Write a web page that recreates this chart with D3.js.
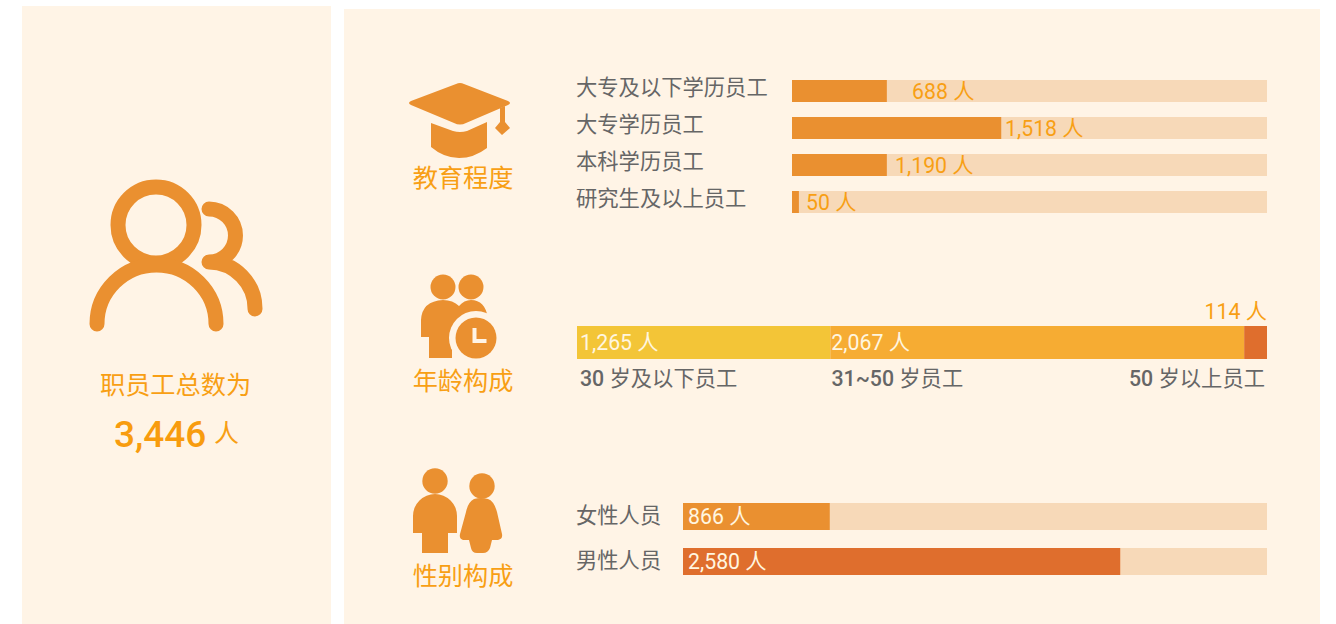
<!DOCTYPE html>
<html><head><meta charset="utf-8">
<script src="https://cdn.jsdelivr.net/npm/d3@7"></script>
<style>html,body{margin:0;padding:0;background:#fff;overflow:hidden}svg{display:block}
text{font-family:Roboto,"Noto Sans CJK SC",sans-serif}</style></head>
<body><svg id="c" width="1336" height="624"></svg>
<script>
// Data
const total = 3446;
const eduLabels = ["大专及以下学历员工","大专学历员工","本科学历员工","研究生及以上员工"];
const eduValues = [688,1518,1190,50];
// The reference draws the 本科 bar at the same length as the 688 bar, whatever its label says.
const eduDrawn = [688,1518,688,50];
const eduLabelX = [912,1005,895,806];
const ageNums = ["30","31~50","50"];
const ageSuffix = [" 岁及以下员工"," 岁员工"," 岁以上员工"];
const ageValues = [1265,2067,114];
const genderLabels = ["女性人员","男性人员"];
const genderValues = [866,2580];
const fmt = d3.format(",");

const BG="#fff4e6",TRACK="#f7d9b8",ORANGE="#ea9030",ICON="#ea9030",TXT="#f89f14",GREY="#666666",DARK="#df6e2d",YEL="#f3c537",MID="#f6ac33";
const svg=d3.select("#c");
svg.append("rect").attr("x",22).attr("y",6).attr("width",309).attr("height",618).attr("fill",BG);
svg.append("rect").attr("x",344).attr("y",9).attr("width",976).attr("height",615).attr("fill",BG);

function t(x,y,s,size,fill,anchor,weight){
  return svg.append("text").attr("x",x).attr("y",y).attr("font-size",size).attr("fill",fill)
    .attr("text-anchor",anchor||"start").attr("font-weight",weight||400).text(s);
}
// total block
t(175.5,394,"职员工总数为",25.2,TXT,"middle");
t(114,447,fmt(total),37,"#f89c0e","start",500);
t(214,442,"人",25,TXT);
// section titles
t(463,187,"教育程度",25.2,TXT,"middle");
t(463,390,"年龄构成",25.2,TXT,"middle");
t(463,585,"性别构成",25.2,TXT,"middle");

// icons
const icon=svg.append("g");
const people=icon.append("g").attr("fill","none").attr("stroke",ICON).attr("stroke-width",15).attr("stroke-linecap","round").attr("stroke-linejoin","round");
people.append("circle").attr("cx",156).attr("cy",225).attr("r",38);
people.append("path").attr("d","M97 324A59.5 59 0 0 1 216 324");
people.append("path").attr("d","M209 209A26.5 26.5 0 0 1 209 262A46.5 46.5 0 0 1 255 309");
const cap=icon.append("g").attr("fill",ICON);
cap.append("path").attr("d","M456 84Q460 82 464 84L508 101Q512 103 508 105L466 123Q460 126 454 123L411 105Q407 103 411 101Z");
cap.append("path").attr("d","M431 123L453 131Q460 133 467 131L487 122V148Q474 158 459 158Q444 158 431 147Z");
cap.append("path").attr("d","M500 108L505 106V122L510 128L502 135L495 128L500 122Z");
const age=icon.append("g").attr("fill",ICON);
age.append("circle").attr("cx",443).attr("cy",287).attr("r",12.5);
age.append("circle").attr("cx",471).attr("cy",287).attr("r",12.5);
age.append("path").attr("d","M421 337V320Q422 301 443 300Q453 300 459 306Q464 300 471 300Q485 300 488 318V340H452V358H429V337Z");
age.append("circle").attr("cx",476).attr("cy",338).attr("r",27).attr("fill",BG);
age.append("circle").attr("cx",476).attr("cy",338).attr("r",20.5);
age.append("path").attr("d","M474.5 328V341H486.5").attr("fill","none").attr("stroke",BG).attr("stroke-width",4);
const gen=icon.append("g").attr("fill",ICON);
gen.append("circle").attr("cx",435).attr("cy",481).attr("r",12.7);
gen.append("circle").attr("cx",482).attr("cy",486).attr("r",12.7);
gen.append("path").attr("d","M413 533V516A22 22 0 0 1 457 516V533H448V553H422V533Z");
gen.append("path").attr("d","M474 499Q481 497 488 499Q494 501 497 512L502 534Q503 539 498 540H492L490 548Q488 553 483 553H477Q472 553 471 548L469 540H463Q459 539 460 534L466 512Q468 502 474 499Z");

// education bars
const eduX=d3.scaleLinear().domain([0,total]).range([792,1267]);
const eduY=d3.scaleBand().domain(eduLabels).range([80,213]).paddingInner(15/37).paddingOuter(0);
const edu=svg.append("g");
edu.selectAll("rect.t").data(eduLabels).join("rect").attr("class","t").attr("x",eduX(0)).attr("y",d=>eduY(d))
  .attr("width",eduX(total)-eduX(0)).attr("height",eduY.bandwidth()).attr("fill",TRACK);
edu.selectAll("rect.v").data(eduDrawn).join("rect").attr("class","v").attr("x",eduX(0)).attr("y",(d,i)=>eduY(eduLabels[i]))
  .attr("width",d=>eduX(d)-eduX(0)).attr("height",eduY.bandwidth()).attr("fill",ORANGE);
eduLabels.forEach((l,i)=>{
  t(576,eduY(l)+14.7,l,21.3,GREY);
  t(eduLabelX[i],eduY(l)+19,fmt(eduValues[i])+" 人",21.3,TXT);
});

// age stacked bar
const ageX=d3.scaleLinear().domain([0,total]).range([577,1267]);
let cum=0; const ageStack=ageValues.map(v=>{const a=cum;cum+=v;return [a,cum];});
const ageCol=[YEL,MID,DARK];
svg.append("g").selectAll("rect").data(ageStack).join("rect")
  .attr("x",d=>ageX(d[0])).attr("y",326).attr("height",33).attr("width",d=>ageX(d[1])-ageX(d[0])).attr("fill",(d,i)=>ageCol[i]);
t(ageX(0)+3,350,fmt(ageValues[0])+" 人",21.3,"#fff6e0");
t(ageX(ageStack[1][0])+1,350,fmt(ageValues[1])+" 人",21.3,"#fff6e0");
t(1267,319,fmt(ageValues[2])+" 人",21.3,TXT,"end");
[[580,"start"],[831.5,"start"],[1265,"end"]].forEach((p,i)=>{
  const e=t(p[0],386,"",21.3,GREY,p[1]);
  e.append("tspan").attr("font-weight",500).text(ageNums[i]);
  e.append("tspan").text(ageSuffix[i]);
});

// gender bars
const gX=d3.scaleLinear().domain([0,total]).range([683,1267]);
const gY=d3.scaleBand().domain(genderLabels).range([503,575]).paddingInner(18/45).paddingOuter(0);
const gCol=[ORANGE,DARK];
const g=svg.append("g");
g.selectAll("rect.t").data(genderLabels).join("rect").attr("class","t").attr("x",gX(0)).attr("y",d=>gY(d))
  .attr("width",gX(total)-gX(0)).attr("height",gY.bandwidth()).attr("fill",TRACK);
g.selectAll("rect.v").data(genderValues).join("rect").attr("class","v").attr("x",gX(0)).attr("y",(d,i)=>gY(genderLabels[i]))
  .attr("width",d=>gX(d)-gX(0)).attr("height",gY.bandwidth()).attr("fill",(d,i)=>gCol[i]);
genderLabels.forEach((l,i)=>{
  t(576,gY(l)+20,l,21.3,GREY);
  t(688,gY(l)+20.5,fmt(genderValues[i])+" 人",21.3,"#fff6e0");
});
</script></body></html>
